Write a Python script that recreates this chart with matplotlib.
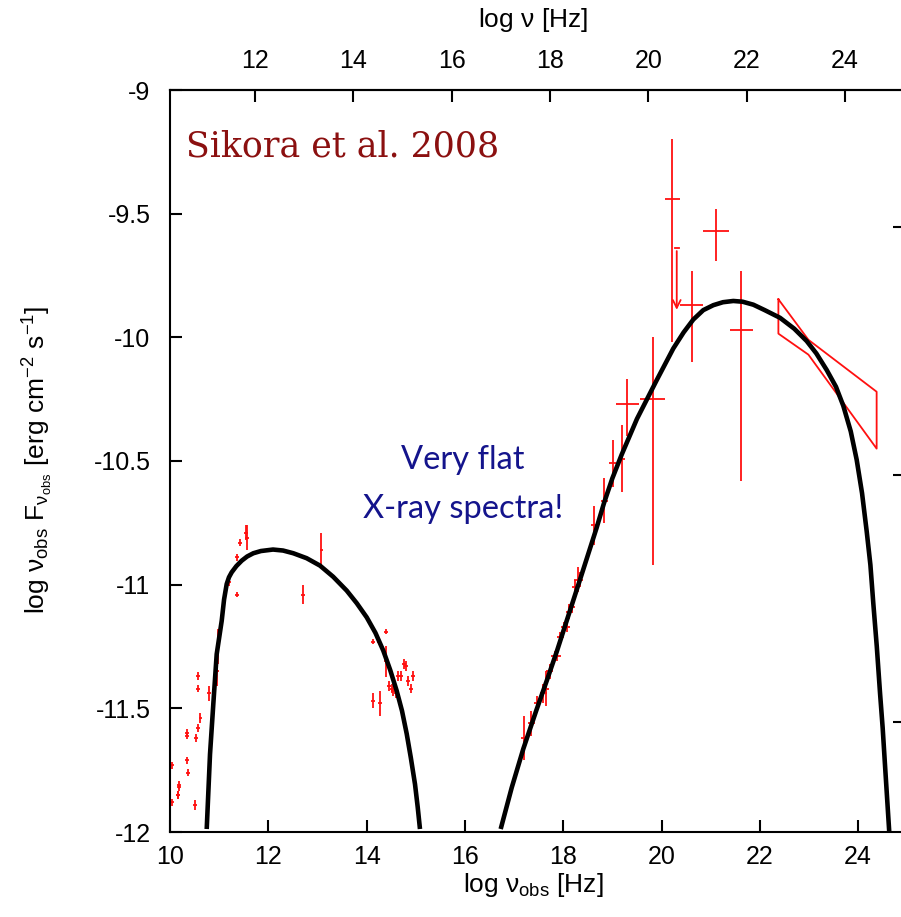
import matplotlib
matplotlib.use('Agg')
import matplotlib.pyplot as plt

plt.rcParams['font.family'] = ['Liberation Sans', 'DejaVu Sans']
plt.rcParams['mathtext.fontset'] = 'custom'
plt.rcParams['mathtext.rm'] = 'Liberation Sans'
plt.rcParams['mathtext.it'] = 'Liberation Sans'
plt.rcParams['mathtext.bf'] = 'Liberation Sans:bold'

# redshift of the source (top axis = rest frame)
log_1pz = 0.2693

# model curves
sync_curve_x = [10.747, 10.814, 10.881, 10.950, 11.052, 11.10, 11.154, 11.20, 11.255, 11.35,
                11.459, 11.57, 11.695, 11.85, 12.096, 12.30, 12.509, 12.78, 13.052, 13.32,
                13.595, 13.80, 14.002, 14.18, 14.340, 14.48, 14.612, 14.72, 14.816, 14.90,
                14.985, 15.04, 15.086]
sync_curve_y = [-11.988, -11.686, -11.483, -11.281, -11.146, -11.06, -10.997, -10.97, -10.950, -10.925,
                -10.903, -10.886, -10.873, -10.864, -10.858, -10.862, -10.873, -10.893, -10.923, -10.968,
                -11.024, -11.075, -11.132, -11.195, -11.267, -11.345, -11.429, -11.51, -11.603, -11.70,
                -11.807, -11.90, -11.988]

ic_curve_x = [16.728, 16.952, 17.188, 17.45, 17.664, 17.87, 18.071, 18.39, 18.68, 18.83,
              19.00, 19.19, 19.50, 19.90, 20.24, 20.45, 20.647, 20.85, 21.054, 21.25,
              21.461, 21.65, 21.868, 22.10, 22.411, 22.70, 22.954, 23.15, 23.361, 23.55,
              23.699, 23.85, 23.971, 24.08, 24.175, 24.25, 24.309, 24.38, 24.446, 24.50,
              24.547, 24.635]
ic_curve_y = [-11.988, -11.821, -11.664, -11.51, -11.389, -11.27, -11.146, -10.95, -10.77, -10.67,
              -10.57, -10.474, -10.33, -10.174, -10.045, -9.98, -9.928, -9.89, -9.870, -9.858,
              -9.853, -9.856, -9.868, -9.89, -9.921, -9.965, -10.015, -10.065, -10.132, -10.20,
              -10.277, -10.38, -10.495, -10.63, -10.785, -10.92, -11.075, -11.25, -11.438, -11.58,
              -11.729, -12.004]

# radio / IR / optical data
sync_x = [10.039, 10.039, 10.158, 10.167, 10.187, 10.187, 10.355, 10.355, 10.355, 10.364, 10.502,
          10.522, 10.561, 10.561, 10.561, 10.620, 10.798, 10.965, 10.985, 11.192, 11.359, 11.359,
          11.428, 11.546, 11.576, 12.708, 13.082, 14.126, 14.136, 14.254, 14.264, 14.392, 14.402,
          14.461, 14.510, 14.540, 14.589, 14.648, 14.697, 14.756, 14.796, 14.845, 14.894, 14.943]
sync_y = [-11.73, -11.88, -11.85, -11.85, -11.81, -11.82, -11.60, -11.61, -11.71, -11.76, -11.89,
          -11.62, -11.37, -11.42, -11.58, -11.54, -11.44, -11.35, -11.25, -10.99, -10.89, -11.04,
          -10.83, -10.79, -10.81, -11.04, -10.86, -11.47, -11.23, -11.23, -11.48, -11.31, -11.19,
          -11.41, -11.42, -11.43, -11.44, -11.37, -11.37, -11.32, -11.33, -11.39, -11.42, -11.37]
sync_err = [0.015, 0.015, 0.015, 0.015, 0.015, 0.015, 0.015, 0.015, 0.015, 0.015, 0.02,
            0.015, 0.015, 0.015, 0.015, 0.02, 0.03, 0.06, 0.07, 0.015, 0.015, 0.01,
            0.015, 0.03, 0.05, 0.04, 0.067, 0.03, 0.01, 0.01, 0.05, 0.064, 0.01,
            0.02, 0.02, 0.02, 0.02, 0.02, 0.02, 0.02, 0.02, 0.02, 0.02, 0.02]

# X-ray data
xr_x = [17.208, 17.346, 17.474, 17.592, 17.651, 17.730, 17.829, 17.878, 17.937, 18.026,
        18.075, 18.124, 18.173, 18.242, 18.291, 18.341, 18.626, 18.833, 19.010, 19.188]
xr_y = [-11.62, -11.56, -11.48, -11.44, -11.42, -11.35, -11.29, -11.29, -11.21, -11.17,
        -11.17, -11.11, -11.09, -11.01, -10.98, -10.98, -10.76, -10.66, -10.51, -10.49]
xr_err = [0.09, 0.05, 0.03, 0.04, 0.07, 0.03, 0.02, 0.02, 0.02, 0.02,
          0.02, 0.03, 0.02, 0.03, 0.05, 0.03, 0.08, 0.09, 0.095, 0.135]

# gamma-ray data
g_x = [19.306, 19.818, 20.222, 20.625, 21.118, 21.620]
g_y = [-10.27, -10.25, -9.44, -9.87, -9.57, -9.97]
g_xlo = [0.236, 0.256, 0.148, 0.246, 0.266, 0.236]
g_xhi = [0.226, 0.256, 0.158, 0.226, 0.256, 0.236]
g_ylo = [0.13, 0.67, 0.58, 0.23, 0.12, 0.61]
g_yhi = [0.10, 0.25, 0.24, 0.14, 0.09, 0.24]

# upper limit
ul_x = 20.31
ul_top = -9.64
ul_bottom = -9.90

# bow-tie
bt_x = [22.378, 22.989, 24.377, 24.377, 22.989, 22.378, 22.378]
bt_y = [-9.846, -10.01, -10.22, -10.45, -10.07, -9.985, -9.846]

fig = plt.figure(figsize=(9.01, 9.17), dpi=100)
ax = fig.add_axes([170 / 901, 85 / 917, 734.8 / 901, 742 / 917])
ax.set_xlim(10, 24.95)
ax.set_ylim(-12, -9)

red = '#ff1010'
ax.errorbar(sync_x, sync_y, yerr=sync_err, xerr=0.04, fmt='none', ecolor=red, elinewidth=1.3)
ax.errorbar(xr_x, xr_y, yerr=xr_err, xerr=0.07, fmt='none', ecolor=red, elinewidth=1.3)
ax.errorbar(g_x, g_y, yerr=[g_ylo, g_yhi], xerr=[g_xlo, g_xhi], fmt='none', ecolor=red, elinewidth=1.3)
ax.plot([ul_x - 0.04, ul_x + 0.04], [ul_top, ul_top], color=red, lw=1.3)
ax.annotate('', xy=(ul_x, ul_bottom), xytext=(ul_x, ul_top),
            arrowprops=dict(arrowstyle='->', color=red, lw=1.3, mutation_scale=14))
ax.plot(bt_x, bt_y, color=red, lw=1.3)

ax.plot(sync_curve_x, sync_curve_y, color='black', lw=3.3, solid_capstyle='butt', solid_joinstyle='round')
ax.plot(ic_curve_x, ic_curve_y, color='black', lw=3.3, solid_capstyle='butt', solid_joinstyle='round')

ax.set_xticks([10, 12, 14, 16, 18, 20, 22, 24])
ax.set_yticks([-12, -11.5, -11, -10.5, -10, -9.5, -9])
ax.set_yticklabels(['-12', '-11.5', '-11', '-10.5', '-10', '-9.5', '-9'])
ax.tick_params(axis='both', direction='in', length=8.5, width=1.5, labelsize=18)
ax.tick_params(axis='x', pad=9)
ax.tick_params(axis='y', pad=14)
for s in ax.spines.values():
    s.set_linewidth(1.5)

top = ax.secondary_xaxis('top', functions=(lambda x: x + log_1pz, lambda x: x - log_1pz))
top.set_xticks([12, 14, 16, 18, 20, 22, 24])
top.tick_params(direction='in', length=8.5, width=1.5, labelsize=18, pad=12)
top.spines['top'].set_linewidth(1.5)

right = ax.secondary_yaxis('right')
right.set_yticks([-11.555, -10.555, -9.555])
right.set_yticklabels([])
right.tick_params(direction='in', length=8.5, width=1.5)

ax.text(10.326, -9.267, 'Sikora et al. 2008', family='DejaVu Serif', fontsize=25,
        color='#8b1010', va='baseline', ha='left')
ax.text(15.961, -10.534, 'Very flat', family='Lato', fontsize=23.5, color='#14148c',
        va='baseline', ha='center')
ax.text(15.961, -10.729, 'X-ray spectra!', family='Lato', fontsize=23.5, color='#14148c',
        va='baseline', ha='center')

fig.text(533 / 901, 1 - 885 / 917, r'log $\nu_\mathrm{obs}$ [Hz]', fontsize=19, ha='center', va='center')
fig.text(533 / 901, 1 - 20 / 917, r'log $\nu$ [Hz]', fontsize=19, ha='center', va='center')
fig.text(38 / 901, 1 - 460 / 917,
         r'log $\nu_\mathrm{obs}$ F$_{\nu_\mathrm{obs}}$ [erg cm$^{-2}$ s$^{-1}$]',
         fontsize=19, ha='center', va='center', rotation=90)

fig.savefig('out.png', dpi=100)
